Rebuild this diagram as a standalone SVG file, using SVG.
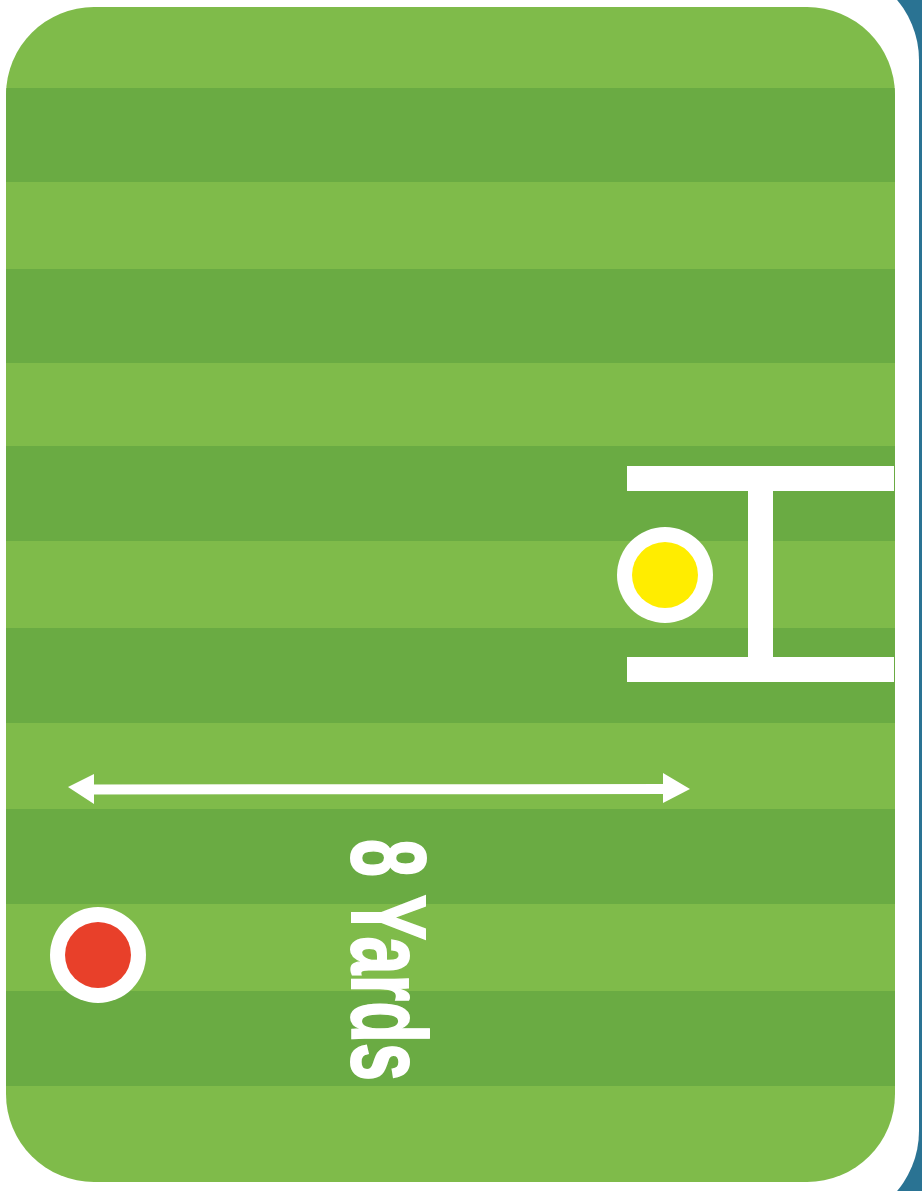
<svg xmlns="http://www.w3.org/2000/svg" width="922" height="1191" viewBox="0 0 922 1191">
  <style>
    .light { fill: #7fbb4a; }
    .dark { fill: #6aab43; }
    .white { fill: #ffffff; }
    .label { font-family: "Liberation Sans", Arial, sans-serif; font-weight: bold; font-size: 106px; fill: #ffffff; stroke: #ffffff; stroke-width: 2; }
  </style>
  <defs>
    <clipPath id="fieldClip">
      <rect x="6" y="7" width="889" height="1175" rx="88" ry="88"/>
    </clipPath>
  </defs>
  <rect x="0" y="0" width="922" height="1191" fill="#ffffff"/>
  <g id="card-border">
    <rect x="870" y="0" width="52" height="1191" fill="#2a7393"/>
    <rect x="-200" y="-33" width="1119" height="1257" rx="93" ry="93" fill="#ffffff"/>
  </g>
  <g id="field" clip-path="url(#fieldClip)">
    <rect class="light" x="6" y="7" width="889" height="1175"/>
    <rect class="dark" x="6" y="88" width="889" height="94"/>
    <rect class="dark" x="6" y="269" width="889" height="94"/>
    <rect class="dark" x="6" y="446" width="889" height="95"/>
    <rect class="dark" x="6" y="628" width="889" height="95"/>
    <rect class="dark" x="6" y="809" width="889" height="95"/>
    <rect class="dark" x="6" y="991" width="889" height="95"/>
  </g>
  <g id="goal-posts">
    <rect class="white" x="627" y="466" width="267" height="25"/>
    <rect class="white" x="748" y="491" width="25" height="166"/>
    <rect class="white" x="627" y="657" width="267" height="25"/>
  </g>
  <g id="yellow-player">
    <circle cx="665" cy="575" r="48" fill="#ffffff"/>
    <circle cx="665" cy="575" r="33" fill="#ffed00"/>
  </g>
  <g id="red-player">
    <circle cx="98" cy="955" r="48" fill="#ffffff"/>
    <circle cx="98" cy="955" r="33" fill="#e8402a"/>
  </g>
  <g id="connectors">
    <line x1="92" y1="789.5" x2="666" y2="789" stroke="#ffffff" stroke-width="10"/>
    <polygon class="white" points="68,787 94,774 94,804"/>
    <polygon class="white" points="690,789 663,773 663,803"/>
  </g>
  <g id="distance-label">
    <text class="label" transform="translate(352,960) rotate(90)" x="0" y="0" text-anchor="middle" textLength="242" lengthAdjust="spacingAndGlyphs">8 Yards</text>
  </g>
</svg>
